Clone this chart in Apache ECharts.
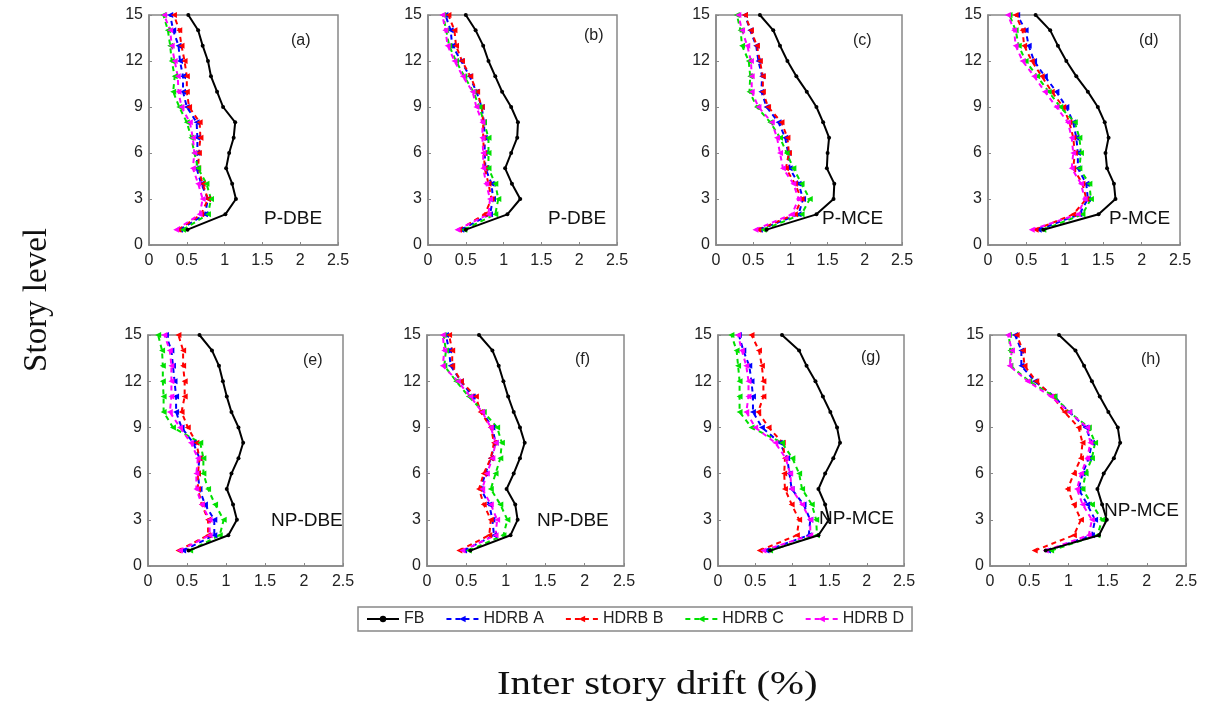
<!DOCTYPE html>
<html>
<head>
<meta charset="utf-8">
<script src="https://cdn.jsdelivr.net/npm/echarts@6/dist/echarts.min.js"></script>
<style>
  html, body { margin: 0; padding: 0; background: #fff; }
  #chart { width: 1214px; height: 704px; }
</style>
</head>
<body>
<div id="chart"></div>
<script>
// story levels 1..15 (y axis)
const stories = [1, 2, 3, 4, 5, 6, 7, 8, 9, 10, 11, 12, 13, 14, 15];
const seriesNames = ['FB', 'HDRB A', 'HDRB B', 'HDRB C', 'HDRB D'];
const panelTags = ['(a)', '(b)', '(c)', '(d)', '(e)', '(f)', '(g)', '(h)'];
const caseNames = ['P-DBE', 'P-DBE', 'P-MCE', 'P-MCE', 'NP-DBE', 'NP-DBE', 'NP-MCE', 'NP-MCE'];

// inter story drift (%) per story, story 1 -> 15
const fb_a = [0.51, 1.01, 1.15, 1.10, 1.02, 1.06, 1.12, 1.14, 0.98, 0.90, 0.82, 0.78, 0.71, 0.65, 0.52];
const hA_a = [0.41, 0.74, 0.78, 0.69, 0.63, 0.64, 0.64, 0.63, 0.50, 0.45, 0.45, 0.41, 0.39, 0.32, 0.28];
const hB_a = [0.39, 0.69, 0.78, 0.71, 0.65, 0.66, 0.68, 0.67, 0.53, 0.50, 0.50, 0.47, 0.43, 0.40, 0.33];
const hC_a = [0.45, 0.78, 0.82, 0.76, 0.65, 0.60, 0.56, 0.50, 0.40, 0.32, 0.34, 0.30, 0.28, 0.25, 0.19];
const hD_a = [0.36, 0.67, 0.71, 0.65, 0.58, 0.60, 0.58, 0.54, 0.43, 0.39, 0.38, 0.34, 0.30, 0.28, 0.20];

const fb_b = [0.50, 1.05, 1.22, 1.11, 1.02, 1.10, 1.18, 1.19, 1.10, 0.98, 0.89, 0.80, 0.73, 0.63, 0.50];
const hA_b = [0.44, 0.82, 0.86, 0.84, 0.76, 0.75, 0.75, 0.74, 0.71, 0.64, 0.55, 0.44, 0.32, 0.30, 0.23];
const hB_b = [0.41, 0.75, 0.84, 0.80, 0.75, 0.74, 0.73, 0.73, 0.71, 0.65, 0.56, 0.45, 0.37, 0.35, 0.27];
const hC_b = [0.48, 0.89, 0.93, 0.89, 0.80, 0.80, 0.80, 0.74, 0.68, 0.60, 0.48, 0.37, 0.28, 0.24, 0.20];
const hD_b = [0.39, 0.80, 0.82, 0.77, 0.73, 0.73, 0.72, 0.72, 0.64, 0.59, 0.46, 0.35, 0.26, 0.23, 0.19];

const fb_c = [0.68, 1.35, 1.58, 1.59, 1.49, 1.50, 1.52, 1.44, 1.35, 1.22, 1.08, 0.96, 0.86, 0.77, 0.59];
const hA_c = [0.59, 1.11, 1.17, 1.11, 0.99, 0.97, 0.93, 0.84, 0.68, 0.61, 0.62, 0.57, 0.54, 0.46, 0.39];
const hB_c = [0.57, 1.06, 1.15, 1.06, 0.94, 0.98, 0.96, 0.88, 0.70, 0.63, 0.63, 0.59, 0.55, 0.47, 0.39];
const hC_c = [0.64, 1.15, 1.26, 1.15, 1.04, 0.95, 0.86, 0.73, 0.55, 0.45, 0.46, 0.44, 0.35, 0.33, 0.28];
const hD_c = [0.53, 1.02, 1.11, 1.04, 0.90, 0.86, 0.82, 0.75, 0.57, 0.48, 0.48, 0.47, 0.42, 0.35, 0.30];

const fb_d = [0.72, 1.44, 1.66, 1.64, 1.55, 1.53, 1.57, 1.52, 1.43, 1.30, 1.15, 1.02, 0.91, 0.81, 0.62];
const hA_d = [0.66, 1.19, 1.30, 1.28, 1.17, 1.17, 1.15, 1.11, 1.02, 0.89, 0.74, 0.60, 0.53, 0.49, 0.38];
const hB_d = [0.62, 1.11, 1.28, 1.23, 1.11, 1.13, 1.11, 1.06, 0.98, 0.83, 0.70, 0.57, 0.47, 0.45, 0.36];
const hC_d = [0.72, 1.23, 1.34, 1.32, 1.19, 1.21, 1.19, 1.13, 0.94, 0.79, 0.64, 0.49, 0.40, 0.36, 0.28];
const hD_d = [0.57, 1.17, 1.26, 1.21, 1.09, 1.11, 1.09, 1.04, 0.89, 0.74, 0.60, 0.45, 0.36, 0.34, 0.26];

const fb_e = [0.52, 1.03, 1.14, 1.09, 1.01, 1.07, 1.16, 1.22, 1.16, 1.07, 1.01, 0.96, 0.91, 0.82, 0.66];
const hA_e = [0.45, 0.85, 0.85, 0.73, 0.66, 0.64, 0.66, 0.58, 0.43, 0.36, 0.36, 0.34, 0.32, 0.30, 0.23];
const hB_e = [0.39, 0.77, 0.77, 0.69, 0.64, 0.64, 0.66, 0.62, 0.51, 0.43, 0.47, 0.47, 0.45, 0.45, 0.39];
const hC_e = [0.54, 0.92, 0.97, 0.86, 0.77, 0.71, 0.71, 0.67, 0.32, 0.20, 0.20, 0.19, 0.19, 0.18, 0.13];
const hD_e = [0.41, 0.79, 0.79, 0.69, 0.62, 0.62, 0.64, 0.55, 0.41, 0.28, 0.30, 0.30, 0.30, 0.28, 0.21];

const fb_f = [0.55, 1.06, 1.15, 1.12, 1.01, 1.10, 1.18, 1.24, 1.18, 1.10, 1.03, 0.97, 0.91, 0.83, 0.66];
const hA_f = [0.47, 0.85, 0.83, 0.79, 0.68, 0.74, 0.81, 0.87, 0.83, 0.70, 0.58, 0.43, 0.30, 0.28, 0.24];
const hB_f = [0.41, 0.79, 0.81, 0.72, 0.66, 0.72, 0.81, 0.85, 0.81, 0.68, 0.62, 0.43, 0.32, 0.32, 0.28];
const hC_f = [0.53, 0.97, 1.02, 0.93, 0.81, 0.87, 0.93, 0.95, 0.89, 0.72, 0.53, 0.37, 0.22, 0.24, 0.21];
const hD_f = [0.45, 0.87, 0.89, 0.81, 0.70, 0.76, 0.83, 0.87, 0.81, 0.70, 0.55, 0.39, 0.20, 0.22, 0.20];

const fb_g = [0.70, 1.35, 1.49, 1.44, 1.35, 1.44, 1.55, 1.64, 1.60, 1.51, 1.41, 1.31, 1.19, 1.09, 0.86];
const hA_g = [0.65, 1.22, 1.24, 1.15, 0.99, 0.96, 0.93, 0.83, 0.59, 0.47, 0.47, 0.45, 0.42, 0.34, 0.28];
const hB_g = [0.56, 1.06, 1.09, 0.99, 0.90, 0.89, 0.90, 0.87, 0.68, 0.54, 0.61, 0.61, 0.59, 0.55, 0.45];
const hC_g = [0.70, 1.33, 1.32, 1.26, 1.13, 1.09, 1.00, 0.86, 0.45, 0.29, 0.29, 0.29, 0.27, 0.25, 0.18];
const hD_g = [0.61, 1.24, 1.24, 1.13, 0.99, 0.97, 0.91, 0.77, 0.50, 0.38, 0.41, 0.41, 0.38, 0.32, 0.27];

const fb_h = [0.71, 1.39, 1.49, 1.43, 1.37, 1.45, 1.58, 1.66, 1.63, 1.51, 1.40, 1.30, 1.20, 1.09, 0.88];
const hA_h = [0.74, 1.30, 1.34, 1.24, 1.13, 1.18, 1.26, 1.30, 1.22, 1.01, 0.82, 0.57, 0.40, 0.40, 0.32];
const hB_h = [0.57, 1.07, 1.16, 1.07, 0.99, 1.07, 1.16, 1.18, 1.13, 0.95, 0.80, 0.59, 0.44, 0.42, 0.34];
const hC_h = [0.78, 1.37, 1.43, 1.30, 1.18, 1.22, 1.30, 1.34, 1.26, 1.01, 0.82, 0.50, 0.26, 0.26, 0.24];
const hD_h = [0.71, 1.26, 1.30, 1.18, 1.11, 1.16, 1.24, 1.28, 1.24, 1.01, 0.78, 0.48, 0.25, 0.28, 0.23];

const panelData = [
  [fb_a, hA_a, hB_a, hC_a, hD_a],
  [fb_b, hA_b, hB_b, hC_b, hD_b],
  [fb_c, hA_c, hB_c, hC_c, hD_c],
  [fb_d, hA_d, hB_d, hC_d, hD_d],
  [fb_e, hA_e, hB_e, hC_e, hD_e],
  [fb_f, hA_f, hB_f, hC_f, hD_f],
  [fb_g, hA_g, hB_g, hC_g, hD_g],
  [fb_h, hA_h, hB_h, hC_h, hD_h]
];

// subplot boxes: [left, top, width, height]
const boxes = [
  [149, 15, 189, 230], [428, 15, 189, 230], [716, 15, 186, 230], [988, 15, 192, 230],
  [148, 335, 195, 231], [427, 335, 197, 231], [718, 335, 186, 231], [990, 335, 196, 231]
];
// label centres inside each box (tag, case name) as [dx, dy] from box top-left
const tagPos = [[156, 28], [170, 23], [151, 28], [165, 28], [169, 28], [162, 27], [157, 25], [165, 27]];
const casePos = [[146, 205], [151, 205], [137, 205], [152, 205], [154, 187], [141, 187], [132, 185], [145, 177]];

const colors = ['#000000', '#0000ff', '#ff0000', '#00e000', '#ff00ff'];

const chart = echarts.init(document.getElementById('chart'));

const grid = [], xAxis = [], yAxis = [], series = [], graphic = [];
const labelFont = { fontFamily: 'Arial, "Liberation Sans", sans-serif', fontSize: 16, color: '#222' };

boxes.forEach((b, i) => {
  grid.push({ left: b[0], top: b[1], width: b[2], height: b[3], show: true, borderColor: '#888', borderWidth: 1.5, backgroundColor: '#fff' });
  xAxis.push({
    type: 'value', gridIndex: i, min: 0, max: 2.5, interval: 0.5,
    axisLine: { show: true, lineStyle: { color: '#888', width: 1.5 } },
    axisTick: { show: true, inside: true, length: 3, lineStyle: { color: '#888' } },
    splitLine: { show: false },
    axisLabel: Object.assign({ margin: 8 }, labelFont)
  });
  yAxis.push({
    type: 'value', gridIndex: i, min: 0, max: 15, interval: 3,
    axisLine: { show: true, lineStyle: { color: '#888', width: 1.5 } },
    axisTick: { show: true, inside: true, length: 3, lineStyle: { color: '#888' } },
    splitLine: { show: false },
    axisLabel: Object.assign({ margin: 6 }, labelFont)
  });
  panelData[i].forEach((vals, k) => {
    const isFB = k === 0;
    series.push({
      name: seriesNames[k],
      type: 'line',
      xAxisIndex: i,
      yAxisIndex: i,
      data: vals.map((v, j) => [v, stories[j]]),
      symbol: isFB ? 'circle' : 'triangle',
      symbolSize: isFB ? 4 : 6,
      symbolRotate: isFB ? 0 : 90,
      showSymbol: true,
      itemStyle: { color: colors[k] },
      lineStyle: { color: colors[k], width: 2, type: isFB ? 'solid' : [5, 4] },
      z: isFB ? 3 : 2,
      animation: false
    });
  });
  graphic.push({
    type: 'text', left: b[0] + tagPos[i][0] - 14, top: b[1] + tagPos[i][1] - 10,
    style: { text: panelTags[i], font: '16px Arial, "Liberation Sans", sans-serif', fill: '#222' }, z: 10
  });
  graphic.push({
    type: 'text', left: b[0] + casePos[i][0] - 31, top: b[1] + casePos[i][1] - 11,
    style: { text: caseNames[i], font: '19px Arial, "Liberation Sans", sans-serif', fill: '#111' }, z: 10
  });
});

graphic.push({
  type: 'text', left: 21, top: 228, rotation: Math.PI / 2,
  style: { text: 'Story level', font: '33px "Liberation Serif", "DejaVu Serif", serif', fill: '#111' }
});
graphic.push({
  type: 'text', left: 497, top: 668, scaleX: 1.2,
  style: { text: 'Inter story drift (%)', font: '34px "Liberation Serif", "DejaVu Serif", serif', fill: '#111' }
});

chart.setOption({
  backgroundColor: '#fff',
  animation: false,
  grid: grid,
  xAxis: xAxis,
  yAxis: yAxis,
  legend: {
    data: seriesNames,
    left: 358, top: 607,
    itemWidth: 32, itemHeight: 8, itemGap: 21,
    padding: [4, 8],
    borderColor: '#888', borderWidth: 1.5,
    textStyle: { fontFamily: 'Arial, "Liberation Sans", sans-serif', fontSize: 16, color: '#222' }
  },
  series: series,
  graphic: graphic
});
</script>
</body>
</html>
